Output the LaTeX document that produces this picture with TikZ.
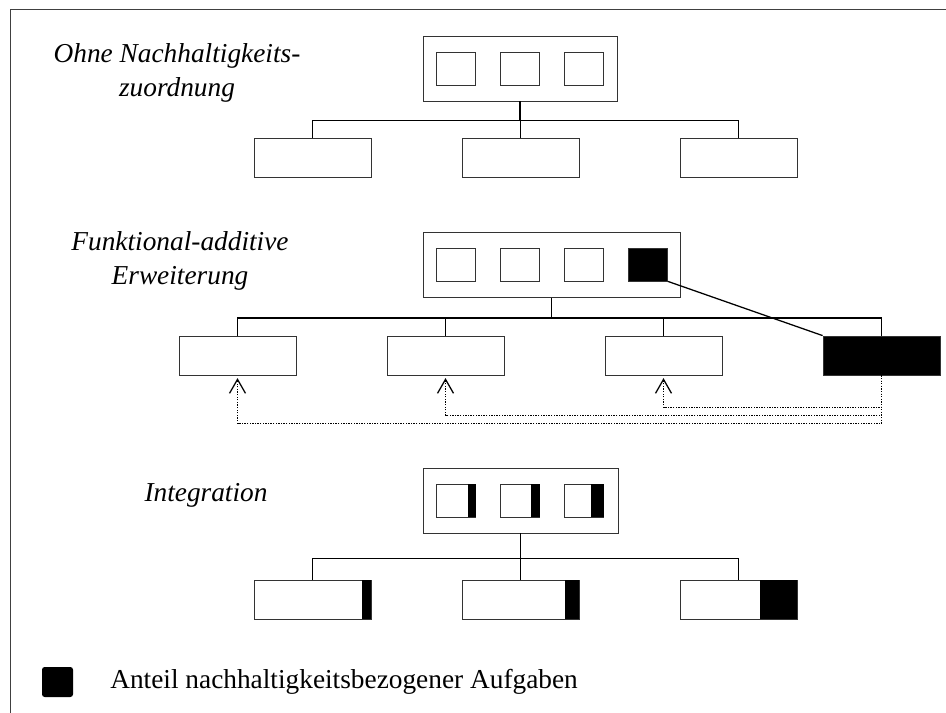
\documentclass[tikz,border=0pt]{standalone}
\usepackage{fontspec}
\setmainfont{Liberation Serif}
\usetikzlibrary{arrows.meta}

\tikzset{
  head/.style={draw=black!80, fill=white, line width=0.6pt, inner sep=0pt, minimum height=48.75pt},
  unit/.style={draw=black!80, fill=white, line width=0.6pt, inner sep=0pt,
    minimum width=87.75pt, minimum height=29.25pt, node distance=156pt},
  task/.style={draw=black!80, fill=white, line width=0.6pt, inner sep=0pt,
    minimum width=29.25pt, minimum height=24.75pt, node distance=48pt},
  eco/.style={fill=black},
  label/.style={font=\fontsize{20.5}{25}\selectfont\itshape, align=center, inner sep=0pt},
  link/.style={line width=0.95pt},
  feed/.style={line width=0.95pt, densely dotted, shorten >=2pt,
    -{Straight Barb[length=10.5pt,width=12pt]}}
}

\begin{document}
\begin{tikzpicture}[x=0.75pt,y=-0.75pt]
  \useasboundingbox (0,0) rectangle (946,713);
  \draw[line width=0.75pt, black!75] (946,10) -- (10,10) -- (10,713);

  % ohne Zuordnung
  \node[label] (t1) at (177,73) {Ohne Nachhaltigkeits-\\zuordnung};
  \node[head, minimum width=145.5pt] (h1) at (520,68.5) {};
  \node[task] (s11) at (456,68.5) {};
  \node[task, right of=s11] (s12) {};
  \node[task, right of=s12] (s13) {};
  \node[unit] (u11) at (312.5,157.5) {};
  \node[unit, right of=u11] (u12) {};
  \node[unit, right of=u12, xshift=7.5pt] (u13) {};

  \draw[link] (h1.south) -- ++(0,19) coordinate (j1);
  \draw[link] (u11.north) |- (j1) -| (u13.north);
  \draw[link] (u12.north) -- (u12.north |- j1);

  % funktional-additiv
  \node[label] (t2) at (180,261) {Funktional-additive\\Erweiterung};
  \node[head, minimum width=192.75pt] (h2) at (551.5,265) {};
  \node[task] (s21) at (456,264.5) {};
  \node[task, right of=s21] (s22) {};
  \node[task, right of=s22] (s23) {};
  \node[task, eco, right of=s23] (s24) {};
  \node[unit] (u21) at (237.5,355.5) {};
  \node[unit, right of=u21] (u22) {};
  \node[unit, right of=u22, xshift=7.5pt] (u23) {};
  \node[unit, eco, right of=u23, xshift=7.5pt] (u24) {};

  \draw[link] (h2.south) -- ++(0,20) coordinate (j2);
  \draw[link] (u21.north) |- (j2) -| (u24.north);
  \foreach \u in {u22,u23}
    \draw[link] (\u.north) -- (\u.north |- j2);
  \draw[link] (s24.south east) -- (u24.north west);

  \draw[feed] (u24.south) -- ++(0,32) -| (u23.south);
  \draw[feed] (u24.south) -- ++(0,40) -| (u22.south);
  \draw[feed] (u24.south) -- ++(0,48) -| (u21.south);

  % Integration
  \node[label] (t3) at (206,495) {Integration};
  \node[head, minimum width=146.25pt] (h3) at (520.5,500.5) {};
  \node[task] (s31) at (456,500.5) {};
  \node[task, right of=s31] (s32) {};
  \node[task, right of=s32] (s33) {};
  \node[unit] (u31) at (312.5,599.5) {};
  \node[unit, right of=u31] (u32) {};
  \node[unit, right of=u32, xshift=7.5pt] (u33) {};

  % Anteil nachhaltigkeitsbezogener Aufgaben
  \foreach \n/\w in {s31/8,s32/9,s33/13,u31/9,u32/14,u33/37}
    \fill ([xshift=-\w*0.75pt]\n.north east) rectangle (\n.south east);

  \draw[link] (h3.south) -- ++(0,25) coordinate (j3);
  \draw[link] (u31.north) |- (j3) -| (u33.north);
  \draw[link] (u32.north) -- (u32.north |- j3);

  % Legende
  \node[fill=black, rounded corners=2pt, inner sep=0pt,
    minimum width=23.25pt, minimum height=22.5pt] (key) at (57.5,682) {};
  \node[right of=key, anchor=west, node distance=39.4pt, inner sep=0pt,
    font=\fontsize{20.5}{25}\selectfont] (keytext) {Anteil nachhaltigkeitsbezogener Aufgaben};
\end{tikzpicture}
\end{document}
